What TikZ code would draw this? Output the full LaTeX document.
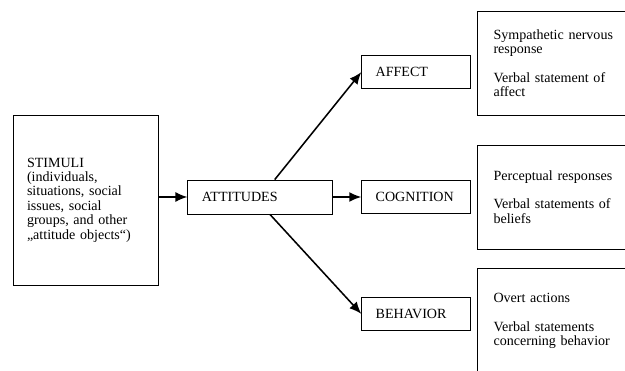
\documentclass[tikz,border=0pt]{standalone}
\usepackage{fontspec}
\setmainfont{Liberation Serif}
\usetikzlibrary{shapes,arrows.meta,positioning,calc}

\begin{document}
\begin{tikzpicture}[
    node distance=0.7cm,
    every node/.style={font=\fontsize{10}{10.2}\selectfont},
    block/.style={rectangle, draw, line width=0.6pt, align=left, inner xsep=0.35cm, minimum height=0.85cm},
    response/.style={rectangle, draw, line width=0.6pt, align=left, text width=3.2cm, inner xsep=0.4cm, minimum height=2.6cm},
    line/.style={draw, line width=1.1pt, -{Latex[length=3mm,width=2.5mm]}}
]
\useasboundingbox (0,0) rectangle (15.625,9.275);
\clip (0,0) rectangle (15.625,9.275);

% Stimuli and attitudes
\node[block, text width=2.925cm, minimum height=4.25cm] (stimuli) at (2.1375,4.275) {STIMULI\\(individuals,\\situations, social\\issues, social\\groups, and other\\„attitude objects“)};
\node[block, text width=2.925cm, right=0.725cm of stimuli, yshift=0.075cm] (attitudes) {ATTITUDES};

% Components
\node[block, text width=2.025cm, minimum height=0.825cm, right=0.7cm of attitudes] (cognition) {COGNITION};
\node[block, text width=2.025cm, minimum height=0.825cm, above=2.275cm of cognition] (affect) {AFFECT};
\node[block, text width=2.025cm, minimum height=0.825cm, below=2.075cm of cognition] (behavior) {BEHAVIOR};

% Responses
\node[response, right=0.15cm of affect, yshift=0.225cm] (affect_resp) {Sympathetic nervous\\response\\[\baselineskip]Verbal statement of\\affect};
\node[response, right=0.15cm of cognition] (cognition_resp) {Perceptual responses\\[\baselineskip]Verbal statements of\\beliefs};
\node[response, right=0.15cm of behavior, yshift=-0.175cm] (behavior_resp) {Overt actions\\[\baselineskip]Verbal statements\\concerning behavior};

% Connections
\path [line] (stimuli.east |- attitudes.west) -- (attitudes.west);
\path [line] ([xshift=0.36cm]attitudes.north) -- (affect.west);
\path [line] (attitudes) -- (cognition);
\path [line] ([xshift=0.24cm]attitudes.south) -- (behavior.west);

\end{tikzpicture}
\end{document}
